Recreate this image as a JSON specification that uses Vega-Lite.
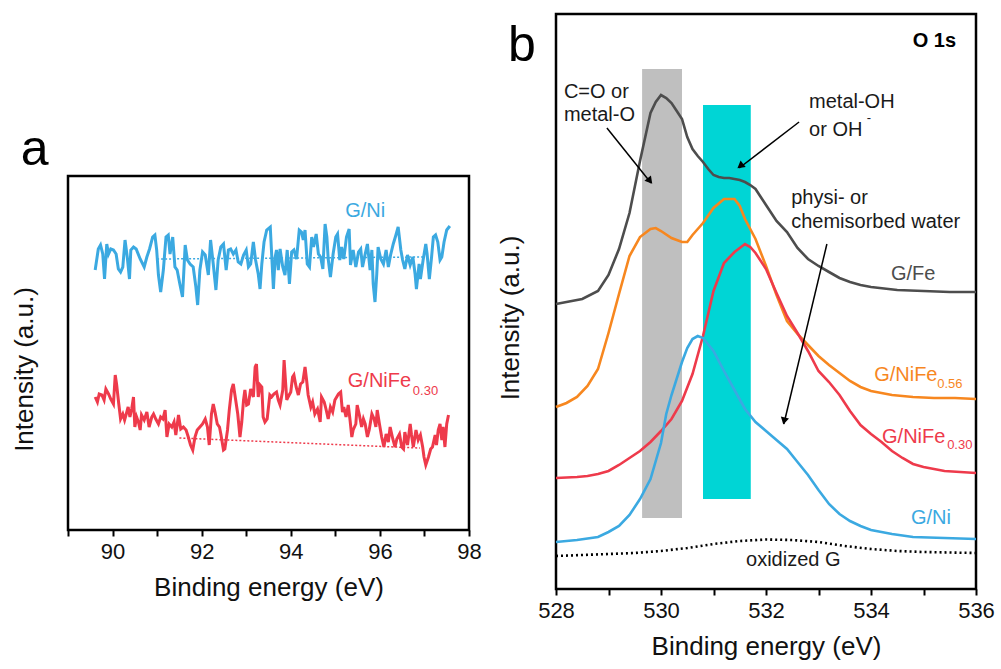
{
  "$schema": "https://vega.github.io/schema/vega-lite/v6.json",
  "padding": {"left": 9, "top": 12, "right": 0, "bottom": 0},
  "background": "white",
  "config": {
    "view": {"stroke": "black", "strokeWidth": 2.5},
    "font": "Liberation Sans",
    "axis": {"grid": false, "labelFont": "Liberation Sans", "titleFont": "Liberation Sans", "labelColor": "#111111", "titleColor": "#111111", "titleFontWeight": "normal", "labelFontSize": 22, "titleFontSize": 26}
  },
  "datasets": {
    "a_lines": [
      {"energy":89.61,"intensity":260,"series":"G/Ni"},{"energy":89.68,"intensity":281,"series":"G/Ni"},{"energy":89.73,"intensity":285,"series":"G/Ni"},{"energy":89.78,"intensity":276,"series":"G/Ni"},{"energy":89.82,"intensity":251,"series":"G/Ni"},{"energy":89.87,"intensity":286,"series":"G/Ni"},{"energy":89.91,"intensity":276,"series":"G/Ni"},{"energy":89.96,"intensity":281,"series":"G/Ni"},{"energy":90.02,"intensity":280,"series":"G/Ni"},{"energy":90.08,"intensity":276,"series":"G/Ni"},{"energy":90.13,"intensity":261,"series":"G/Ni"},{"energy":90.18,"intensity":258,"series":"G/Ni"},{"energy":90.23,"intensity":263,"series":"G/Ni"},{"energy":90.28,"intensity":290,"series":"G/Ni"},{"energy":90.33,"intensity":273,"series":"G/Ni"},{"energy":90.38,"intensity":251,"series":"G/Ni"},{"energy":90.41,"intensity":280,"series":"G/Ni"},{"energy":90.47,"intensity":283,"series":"G/Ni"},{"energy":90.53,"intensity":281,"series":"G/Ni"},{"energy":90.62,"intensity":271,"series":"G/Ni"},{"energy":90.71,"intensity":263,"series":"G/Ni"},{"energy":90.77,"intensity":273,"series":"G/Ni"},{"energy":90.83,"intensity":281,"series":"G/Ni"},{"energy":90.90,"intensity":293,"series":"G/Ni"},{"energy":90.95,"intensity":295,"series":"G/Ni"},{"energy":90.99,"intensity":280,"series":"G/Ni"},{"energy":91.03,"intensity":255,"series":"G/Ni"},{"energy":91.08,"intensity":238,"series":"G/Ni"},{"energy":91.14,"intensity":260,"series":"G/Ni"},{"energy":91.20,"intensity":293,"series":"G/Ni"},{"energy":91.25,"intensity":295,"series":"G/Ni"},{"energy":91.29,"intensity":276,"series":"G/Ni"},{"energy":91.35,"intensity":293,"series":"G/Ni"},{"energy":91.40,"intensity":263,"series":"G/Ni"},{"energy":91.45,"intensity":260,"series":"G/Ni"},{"energy":91.51,"intensity":246,"series":"G/Ni"},{"energy":91.57,"intensity":233,"series":"G/Ni"},{"energy":91.63,"intensity":285,"series":"G/Ni"},{"energy":91.68,"intensity":270,"series":"G/Ni"},{"energy":91.74,"intensity":266,"series":"G/Ni"},{"energy":91.81,"intensity":263,"series":"G/Ni"},{"energy":91.87,"intensity":243,"series":"G/Ni"},{"energy":91.91,"intensity":225,"series":"G/Ni"},{"energy":91.96,"intensity":260,"series":"G/Ni"},{"energy":92.02,"intensity":278,"series":"G/Ni"},{"energy":92.08,"intensity":275,"series":"G/Ni"},{"energy":92.15,"intensity":255,"series":"G/Ni"},{"energy":92.20,"intensity":290,"series":"G/Ni"},{"energy":92.26,"intensity":266,"series":"G/Ni"},{"energy":92.32,"intensity":240,"series":"G/Ni"},{"energy":92.37,"intensity":270,"series":"G/Ni"},{"energy":92.43,"intensity":283,"series":"G/Ni"},{"energy":92.49,"intensity":286,"series":"G/Ni"},{"energy":92.55,"intensity":260,"series":"G/Ni"},{"energy":92.60,"intensity":280,"series":"G/Ni"},{"energy":92.65,"intensity":281,"series":"G/Ni"},{"energy":92.71,"intensity":276,"series":"G/Ni"},{"energy":92.77,"intensity":280,"series":"G/Ni"},{"energy":92.82,"intensity":268,"series":"G/Ni"},{"energy":92.88,"intensity":266,"series":"G/Ni"},{"energy":92.94,"intensity":275,"series":"G/Ni"},{"energy":93.00,"intensity":280,"series":"G/Ni"},{"energy":93.05,"intensity":263,"series":"G/Ni"},{"energy":93.10,"intensity":266,"series":"G/Ni"},{"energy":93.16,"intensity":288,"series":"G/Ni"},{"energy":93.21,"intensity":270,"series":"G/Ni"},{"energy":93.27,"intensity":256,"series":"G/Ni"},{"energy":93.31,"intensity":241,"series":"G/Ni"},{"energy":93.35,"intensity":266,"series":"G/Ni"},{"energy":93.40,"intensity":288,"series":"G/Ni"},{"energy":93.46,"intensity":300,"series":"G/Ni"},{"energy":93.54,"intensity":303,"series":"G/Ni"},{"energy":93.61,"intensity":241,"series":"G/Ni"},{"energy":93.65,"intensity":273,"series":"G/Ni"},{"energy":93.68,"intensity":280,"series":"G/Ni"},{"energy":93.72,"intensity":260,"series":"G/Ni"},{"energy":93.76,"intensity":281,"series":"G/Ni"},{"energy":93.82,"intensity":263,"series":"G/Ni"},{"energy":93.87,"intensity":255,"series":"G/Ni"},{"energy":93.92,"intensity":280,"series":"G/Ni"},{"energy":93.97,"intensity":246,"series":"G/Ni"},{"energy":94.02,"intensity":278,"series":"G/Ni"},{"energy":94.07,"intensity":280,"series":"G/Ni"},{"energy":94.13,"intensity":271,"series":"G/Ni"},{"energy":94.19,"intensity":300,"series":"G/Ni"},{"energy":94.24,"intensity":298,"series":"G/Ni"},{"energy":94.28,"intensity":290,"series":"G/Ni"},{"energy":94.32,"intensity":300,"series":"G/Ni"},{"energy":94.37,"intensity":266,"series":"G/Ni"},{"energy":94.42,"intensity":263,"series":"G/Ni"},{"energy":94.47,"intensity":293,"series":"G/Ni"},{"energy":94.51,"intensity":283,"series":"G/Ni"},{"energy":94.57,"intensity":296,"series":"G/Ni"},{"energy":94.62,"intensity":276,"series":"G/Ni"},{"energy":94.67,"intensity":273,"series":"G/Ni"},{"energy":94.72,"intensity":261,"series":"G/Ni"},{"energy":94.77,"intensity":306,"series":"G/Ni"},{"energy":94.81,"intensity":293,"series":"G/Ni"},{"energy":94.84,"intensity":271,"series":"G/Ni"},{"energy":94.89,"intensity":253,"series":"G/Ni"},{"energy":94.95,"intensity":276,"series":"G/Ni"},{"energy":95.01,"intensity":293,"series":"G/Ni"},{"energy":95.05,"intensity":296,"series":"G/Ni"},{"energy":95.10,"intensity":270,"series":"G/Ni"},{"energy":95.14,"intensity":283,"series":"G/Ni"},{"energy":95.19,"intensity":271,"series":"G/Ni"},{"energy":95.25,"intensity":293,"series":"G/Ni"},{"energy":95.31,"intensity":301,"series":"G/Ni"},{"energy":95.34,"intensity":265,"series":"G/Ni"},{"energy":95.40,"intensity":280,"series":"G/Ni"},{"energy":95.46,"intensity":263,"series":"G/Ni"},{"energy":95.52,"intensity":278,"series":"G/Ni"},{"energy":95.57,"intensity":281,"series":"G/Ni"},{"energy":95.61,"intensity":263,"series":"G/Ni"},{"energy":95.67,"intensity":276,"series":"G/Ni"},{"energy":95.72,"intensity":286,"series":"G/Ni"},{"energy":95.78,"intensity":260,"series":"G/Ni"},{"energy":95.82,"intensity":280,"series":"G/Ni"},{"energy":95.85,"intensity":246,"series":"G/Ni"},{"energy":95.89,"intensity":228,"series":"G/Ni"},{"energy":95.93,"intensity":256,"series":"G/Ni"},{"energy":95.96,"intensity":283,"series":"G/Ni"},{"energy":96.02,"intensity":271,"series":"G/Ni"},{"energy":96.08,"intensity":266,"series":"G/Ni"},{"energy":96.14,"intensity":280,"series":"G/Ni"},{"energy":96.19,"intensity":263,"series":"G/Ni"},{"energy":96.24,"intensity":275,"series":"G/Ni"},{"energy":96.30,"intensity":286,"series":"G/Ni"},{"energy":96.36,"intensity":295,"series":"G/Ni"},{"energy":96.41,"intensity":303,"series":"G/Ni"},{"energy":96.47,"intensity":280,"series":"G/Ni"},{"energy":96.51,"intensity":270,"series":"G/Ni"},{"energy":96.56,"intensity":261,"series":"G/Ni"},{"energy":96.62,"intensity":275,"series":"G/Ni"},{"energy":96.68,"intensity":265,"series":"G/Ni"},{"energy":96.74,"intensity":273,"series":"G/Ni"},{"energy":96.79,"intensity":256,"series":"G/Ni"},{"energy":96.82,"intensity":241,"series":"G/Ni"},{"energy":96.88,"intensity":266,"series":"G/Ni"},{"energy":96.91,"intensity":251,"series":"G/Ni"},{"energy":96.97,"intensity":270,"series":"G/Ni"},{"energy":97.03,"intensity":286,"series":"G/Ni"},{"energy":97.06,"intensity":276,"series":"G/Ni"},{"energy":97.11,"intensity":251,"series":"G/Ni"},{"energy":97.16,"intensity":273,"series":"G/Ni"},{"energy":97.20,"intensity":293,"series":"G/Ni"},{"energy":97.25,"intensity":295,"series":"G/Ni"},{"energy":97.30,"intensity":288,"series":"G/Ni"},{"energy":97.35,"intensity":270,"series":"G/Ni"},{"energy":97.39,"intensity":273,"series":"G/Ni"},{"energy":97.44,"intensity":288,"series":"G/Ni"},{"energy":97.50,"intensity":300,"series":"G/Ni"},{"energy":97.57,"intensity":304,"series":"G/Ni"},
      {"energy":89.61,"intensity":133,"series":"G/NiFe0.30"},{"energy":89.66,"intensity":128,"series":"G/NiFe0.30"},{"energy":89.70,"intensity":136,"series":"G/NiFe0.30"},{"energy":89.76,"intensity":135,"series":"G/NiFe0.30"},{"energy":89.81,"intensity":130,"series":"G/NiFe0.30"},{"energy":89.85,"intensity":141,"series":"G/NiFe0.30"},{"energy":89.91,"intensity":136,"series":"G/NiFe0.30"},{"energy":89.96,"intensity":131,"series":"G/NiFe0.30"},{"energy":90.02,"intensity":126,"series":"G/NiFe0.30"},{"energy":90.06,"intensity":155,"series":"G/NiFe0.30"},{"energy":90.09,"intensity":146,"series":"G/NiFe0.30"},{"energy":90.14,"intensity":126,"series":"G/NiFe0.30"},{"energy":90.18,"intensity":111,"series":"G/NiFe0.30"},{"energy":90.23,"intensity":116,"series":"G/NiFe0.30"},{"energy":90.27,"intensity":110,"series":"G/NiFe0.30"},{"energy":90.32,"intensity":118,"series":"G/NiFe0.30"},{"energy":90.35,"intensity":123,"series":"G/NiFe0.30"},{"energy":90.39,"intensity":113,"series":"G/NiFe0.30"},{"energy":90.43,"intensity":121,"series":"G/NiFe0.30"},{"energy":90.47,"intensity":133,"series":"G/NiFe0.30"},{"energy":90.50,"intensity":103,"series":"G/NiFe0.30"},{"energy":90.54,"intensity":113,"series":"G/NiFe0.30"},{"energy":90.58,"intensity":108,"series":"G/NiFe0.30"},{"energy":90.62,"intensity":100,"series":"G/NiFe0.30"},{"energy":90.65,"intensity":115,"series":"G/NiFe0.30"},{"energy":90.71,"intensity":110,"series":"G/NiFe0.30"},{"energy":90.77,"intensity":118,"series":"G/NiFe0.30"},{"energy":90.82,"intensity":103,"series":"G/NiFe0.30"},{"energy":90.88,"intensity":113,"series":"G/NiFe0.30"},{"energy":90.92,"intensity":116,"series":"G/NiFe0.30"},{"energy":90.97,"intensity":111,"series":"G/NiFe0.30"},{"energy":91.03,"intensity":106,"series":"G/NiFe0.30"},{"energy":91.08,"intensity":113,"series":"G/NiFe0.30"},{"energy":91.13,"intensity":111,"series":"G/NiFe0.30"},{"energy":91.18,"intensity":120,"series":"G/NiFe0.30"},{"energy":91.22,"intensity":93,"series":"G/NiFe0.30"},{"energy":91.27,"intensity":106,"series":"G/NiFe0.30"},{"energy":91.33,"intensity":103,"series":"G/NiFe0.30"},{"energy":91.38,"intensity":108,"series":"G/NiFe0.30"},{"energy":91.42,"intensity":95,"series":"G/NiFe0.30"},{"energy":91.48,"intensity":115,"series":"G/NiFe0.30"},{"energy":91.53,"intensity":101,"series":"G/NiFe0.30"},{"energy":91.59,"intensity":103,"series":"G/NiFe0.30"},{"energy":91.65,"intensity":100,"series":"G/NiFe0.30"},{"energy":91.70,"intensity":93,"series":"G/NiFe0.30"},{"energy":91.75,"intensity":85,"series":"G/NiFe0.30"},{"energy":91.80,"intensity":80,"series":"G/NiFe0.30"},{"energy":91.85,"intensity":93,"series":"G/NiFe0.30"},{"energy":91.90,"intensity":100,"series":"G/NiFe0.30"},{"energy":91.96,"intensity":103,"series":"G/NiFe0.30"},{"energy":92.02,"intensity":106,"series":"G/NiFe0.30"},{"energy":92.08,"intensity":111,"series":"G/NiFe0.30"},{"energy":92.13,"intensity":103,"series":"G/NiFe0.30"},{"energy":92.17,"intensity":85,"series":"G/NiFe0.30"},{"energy":92.22,"intensity":116,"series":"G/NiFe0.30"},{"energy":92.26,"intensity":126,"series":"G/NiFe0.30"},{"energy":92.30,"intensity":118,"series":"G/NiFe0.30"},{"energy":92.35,"intensity":106,"series":"G/NiFe0.30"},{"energy":92.40,"intensity":103,"series":"G/NiFe0.30"},{"energy":92.43,"intensity":96,"series":"G/NiFe0.30"},{"energy":92.49,"intensity":80,"series":"G/NiFe0.30"},{"energy":92.52,"intensity":81,"series":"G/NiFe0.30"},{"energy":92.58,"intensity":100,"series":"G/NiFe0.30"},{"energy":92.62,"intensity":120,"series":"G/NiFe0.30"},{"energy":92.67,"intensity":140,"series":"G/NiFe0.30"},{"energy":92.71,"intensity":146,"series":"G/NiFe0.30"},{"energy":92.76,"intensity":131,"series":"G/NiFe0.30"},{"energy":92.81,"intensity":116,"series":"G/NiFe0.30"},{"energy":92.86,"intensity":93,"series":"G/NiFe0.30"},{"energy":92.90,"intensity":108,"series":"G/NiFe0.30"},{"energy":92.94,"intensity":130,"series":"G/NiFe0.30"},{"energy":92.97,"intensity":140,"series":"G/NiFe0.30"},{"energy":93.01,"intensity":125,"series":"G/NiFe0.30"},{"energy":93.05,"intensity":126,"series":"G/NiFe0.30"},{"energy":93.10,"intensity":141,"series":"G/NiFe0.30"},{"energy":93.16,"intensity":133,"series":"G/NiFe0.30"},{"energy":93.20,"intensity":163,"series":"G/NiFe0.30"},{"energy":93.23,"intensity":166,"series":"G/NiFe0.30"},{"energy":93.27,"intensity":133,"series":"G/NiFe0.30"},{"energy":93.31,"intensity":145,"series":"G/NiFe0.30"},{"energy":93.35,"intensity":143,"series":"G/NiFe0.30"},{"energy":93.38,"intensity":113,"series":"G/NiFe0.30"},{"energy":93.42,"intensity":108,"series":"G/NiFe0.30"},{"energy":93.47,"intensity":111,"series":"G/NiFe0.30"},{"energy":93.53,"intensity":135,"series":"G/NiFe0.30"},{"energy":93.57,"intensity":133,"series":"G/NiFe0.30"},{"energy":93.62,"intensity":136,"series":"G/NiFe0.30"},{"energy":93.68,"intensity":138,"series":"G/NiFe0.30"},{"energy":93.72,"intensity":130,"series":"G/NiFe0.30"},{"energy":93.76,"intensity":125,"series":"G/NiFe0.30"},{"energy":93.82,"intensity":140,"series":"G/NiFe0.30"},{"energy":93.85,"intensity":170,"series":"G/NiFe0.30"},{"energy":93.88,"intensity":150,"series":"G/NiFe0.30"},{"energy":93.91,"intensity":130,"series":"G/NiFe0.30"},{"energy":93.94,"intensity":133,"series":"G/NiFe0.30"},{"energy":94.00,"intensity":138,"series":"G/NiFe0.30"},{"energy":94.04,"intensity":153,"series":"G/NiFe0.30"},{"energy":94.07,"intensity":155,"series":"G/NiFe0.30"},{"energy":94.12,"intensity":143,"series":"G/NiFe0.30"},{"energy":94.17,"intensity":135,"series":"G/NiFe0.30"},{"energy":94.22,"intensity":146,"series":"G/NiFe0.30"},{"energy":94.27,"intensity":148,"series":"G/NiFe0.30"},{"energy":94.32,"intensity":163,"series":"G/NiFe0.30"},{"energy":94.36,"intensity":148,"series":"G/NiFe0.30"},{"energy":94.39,"intensity":135,"series":"G/NiFe0.30"},{"energy":94.45,"intensity":123,"series":"G/NiFe0.30"},{"energy":94.49,"intensity":128,"series":"G/NiFe0.30"},{"energy":94.54,"intensity":116,"series":"G/NiFe0.30"},{"energy":94.60,"intensity":121,"series":"G/NiFe0.30"},{"energy":94.66,"intensity":108,"series":"G/NiFe0.30"},{"energy":94.69,"intensity":133,"series":"G/NiFe0.30"},{"energy":94.75,"intensity":128,"series":"G/NiFe0.30"},{"energy":94.79,"intensity":121,"series":"G/NiFe0.30"},{"energy":94.84,"intensity":111,"series":"G/NiFe0.30"},{"energy":94.89,"intensity":123,"series":"G/NiFe0.30"},{"energy":94.94,"intensity":118,"series":"G/NiFe0.30"},{"energy":94.99,"intensity":130,"series":"G/NiFe0.30"},{"energy":95.03,"intensity":133,"series":"G/NiFe0.30"},{"energy":95.07,"intensity":136,"series":"G/NiFe0.30"},{"energy":95.12,"intensity":138,"series":"G/NiFe0.30"},{"energy":95.16,"intensity":118,"series":"G/NiFe0.30"},{"energy":95.19,"intensity":123,"series":"G/NiFe0.30"},{"energy":95.24,"intensity":113,"series":"G/NiFe0.30"},{"energy":95.29,"intensity":125,"series":"G/NiFe0.30"},{"energy":95.33,"intensity":110,"series":"G/NiFe0.30"},{"energy":95.37,"intensity":93,"series":"G/NiFe0.30"},{"energy":95.40,"intensity":100,"series":"G/NiFe0.30"},{"energy":95.46,"intensity":106,"series":"G/NiFe0.30"},{"energy":95.49,"intensity":125,"series":"G/NiFe0.30"},{"energy":95.54,"intensity":115,"series":"G/NiFe0.30"},{"energy":95.59,"intensity":103,"series":"G/NiFe0.30"},{"energy":95.63,"intensity":111,"series":"G/NiFe0.30"},{"energy":95.67,"intensity":106,"series":"G/NiFe0.30"},{"energy":95.72,"intensity":93,"series":"G/NiFe0.30"},{"energy":95.76,"intensity":100,"series":"G/NiFe0.30"},{"energy":95.82,"intensity":116,"series":"G/NiFe0.30"},{"energy":95.87,"intensity":111,"series":"G/NiFe0.30"},{"energy":95.91,"intensity":103,"series":"G/NiFe0.30"},{"energy":95.94,"intensity":120,"series":"G/NiFe0.30"},{"energy":95.99,"intensity":106,"series":"G/NiFe0.30"},{"energy":96.04,"intensity":93,"series":"G/NiFe0.30"},{"energy":96.09,"intensity":83,"series":"G/NiFe0.30"},{"energy":96.14,"intensity":96,"series":"G/NiFe0.30"},{"energy":96.19,"intensity":88,"series":"G/NiFe0.30"},{"energy":96.23,"intensity":103,"series":"G/NiFe0.30"},{"energy":96.29,"intensity":91,"series":"G/NiFe0.30"},{"energy":96.34,"intensity":83,"series":"G/NiFe0.30"},{"energy":96.38,"intensity":91,"series":"G/NiFe0.30"},{"energy":96.44,"intensity":96,"series":"G/NiFe0.30"},{"energy":96.49,"intensity":83,"series":"G/NiFe0.30"},{"energy":96.53,"intensity":81,"series":"G/NiFe0.30"},{"energy":96.56,"intensity":98,"series":"G/NiFe0.30"},{"energy":96.62,"intensity":85,"series":"G/NiFe0.30"},{"energy":96.68,"intensity":106,"series":"G/NiFe0.30"},{"energy":96.71,"intensity":95,"series":"G/NiFe0.30"},{"energy":96.75,"intensity":83,"series":"G/NiFe0.30"},{"energy":96.81,"intensity":100,"series":"G/NiFe0.30"},{"energy":96.86,"intensity":90,"series":"G/NiFe0.30"},{"energy":96.91,"intensity":95,"series":"G/NiFe0.30"},{"energy":96.96,"intensity":83,"series":"G/NiFe0.30"},{"energy":96.99,"intensity":73,"series":"G/NiFe0.30"},{"energy":97.03,"intensity":65,"series":"G/NiFe0.30"},{"energy":97.09,"intensity":73,"series":"G/NiFe0.30"},{"energy":97.14,"intensity":81,"series":"G/NiFe0.30"},{"energy":97.18,"intensity":83,"series":"G/NiFe0.30"},{"energy":97.24,"intensity":95,"series":"G/NiFe0.30"},{"energy":97.27,"intensity":85,"series":"G/NiFe0.30"},{"energy":97.31,"intensity":100,"series":"G/NiFe0.30"},{"energy":97.35,"intensity":106,"series":"G/NiFe0.30"},{"energy":97.39,"intensity":90,"series":"G/NiFe0.30"},{"energy":97.42,"intensity":103,"series":"G/NiFe0.30"},{"energy":97.46,"intensity":83,"series":"G/NiFe0.30"},{"energy":97.50,"intensity":106,"series":"G/NiFe0.30"},{"energy":97.54,"intensity":115,"series":"G/NiFe0.30"}
    ],
    "a_base": [
      {"energy":91.0,"intensity":271,"series":"G/Ni"},{"energy":97.0,"intensity":273,"series":"G/Ni"},
      {"energy":91.5,"intensity":92,"series":"G/NiFe0.30"},{"energy":96.9,"intensity":82,"series":"G/NiFe0.30"}
    ],
    "a_notes": [
      {"label":"G/Ni","energy":95.22,"intensity":313,"series":"G/Ni"},
      {"label":"G/NiFe","energy":95.28,"intensity":143,"series":"G/NiFe0.30"}
    ],
    "a_subs": [
      {"label":"0.30","energy":96.74,"intensity":135,"series":"G/NiFe0.30"}
    ],
    "a_letter": [{"label":"a","energy":88.25,"intensity":365}],
    "b_bands": [
      {"energy":529.64,"energy2":530.40,"intensity":71,"intensity2":520,"series":"gray band"},
      {"energy":530.80,"energy2":531.71,"intensity":90,"intensity2":484,"series":"cyan band"}
    ],
    "b_lines": [
      {"energy":528.0,"intensity":285,"series":"G/Fe"},{"energy":528.2,"intensity":287,"series":"G/Fe"},{"energy":528.5,"intensity":290,"series":"G/Fe"},{"energy":528.8,"intensity":298,"series":"G/Fe"},{"energy":529.0,"intensity":314,"series":"G/Fe"},{"energy":529.2,"intensity":340,"series":"G/Fe"},{"energy":529.4,"intensity":376,"series":"G/Fe"},{"energy":529.6,"intensity":428,"series":"G/Fe"},{"energy":529.7,"intensity":452,"series":"G/Fe"},{"energy":529.8,"intensity":476,"series":"G/Fe"},{"energy":529.9,"intensity":487,"series":"G/Fe"},{"energy":530.0,"intensity":494,"series":"G/Fe"},{"energy":530.1,"intensity":491,"series":"G/Fe"},{"energy":530.2,"intensity":486,"series":"G/Fe"},{"energy":530.3,"intensity":478,"series":"G/Fe"},{"energy":530.4,"intensity":470,"series":"G/Fe"},{"energy":530.5,"intensity":452,"series":"G/Fe"},{"energy":530.6,"intensity":440,"series":"G/Fe"},{"energy":530.7,"intensity":433,"series":"G/Fe"},{"energy":530.8,"intensity":427,"series":"G/Fe"},{"energy":530.9,"intensity":420,"series":"G/Fe"},{"energy":531.0,"intensity":414,"series":"G/Fe"},{"energy":531.1,"intensity":412,"series":"G/Fe"},{"energy":531.2,"intensity":411,"series":"G/Fe"},{"energy":531.3,"intensity":411,"series":"G/Fe"},{"energy":531.4,"intensity":410,"series":"G/Fe"},{"energy":531.5,"intensity":409,"series":"G/Fe"},{"energy":531.6,"intensity":407,"series":"G/Fe"},{"energy":531.7,"intensity":404,"series":"G/Fe"},{"energy":531.8,"intensity":400,"series":"G/Fe"},{"energy":531.9,"intensity":392,"series":"G/Fe"},{"energy":532.0,"intensity":384,"series":"G/Fe"},{"energy":532.2,"intensity":368,"series":"G/Fe"},{"energy":532.4,"intensity":357,"series":"G/Fe"},{"energy":532.6,"intensity":341,"series":"G/Fe"},{"energy":532.8,"intensity":330,"series":"G/Fe"},{"energy":533.0,"intensity":323,"series":"G/Fe"},{"energy":533.2,"intensity":317,"series":"G/Fe"},{"energy":533.4,"intensity":311,"series":"G/Fe"},{"energy":533.6,"intensity":307,"series":"G/Fe"},{"energy":533.8,"intensity":304,"series":"G/Fe"},{"energy":534.0,"intensity":302,"series":"G/Fe"},{"energy":534.5,"intensity":299,"series":"G/Fe"},{"energy":535.0,"intensity":298,"series":"G/Fe"},{"energy":535.5,"intensity":297,"series":"G/Fe"},{"energy":536.0,"intensity":297,"series":"G/Fe"},
      {"energy":528.0,"intensity":182,"series":"G/NiFe0.56"},{"energy":528.2,"intensity":186,"series":"G/NiFe0.56"},{"energy":528.4,"intensity":192,"series":"G/NiFe0.56"},{"energy":528.6,"intensity":203,"series":"G/NiFe0.56"},{"energy":528.8,"intensity":220,"series":"G/NiFe0.56"},{"energy":529.0,"intensity":256,"series":"G/NiFe0.56"},{"energy":529.2,"intensity":295,"series":"G/NiFe0.56"},{"energy":529.4,"intensity":333,"series":"G/NiFe0.56"},{"energy":529.6,"intensity":352,"series":"G/NiFe0.56"},{"energy":529.8,"intensity":360,"series":"G/NiFe0.56"},{"energy":529.9,"intensity":361,"series":"G/NiFe0.56"},{"energy":530.0,"intensity":358,"series":"G/NiFe0.56"},{"energy":530.2,"intensity":351,"series":"G/NiFe0.56"},{"energy":530.4,"intensity":347,"series":"G/NiFe0.56"},{"energy":530.5,"intensity":347,"series":"G/NiFe0.56"},{"energy":530.6,"intensity":354,"series":"G/NiFe0.56"},{"energy":530.8,"intensity":366,"series":"G/NiFe0.56"},{"energy":531.0,"intensity":381,"series":"G/NiFe0.56"},{"energy":531.2,"intensity":390,"series":"G/NiFe0.56"},{"energy":531.4,"intensity":390,"series":"G/NiFe0.56"},{"energy":531.5,"intensity":383,"series":"G/NiFe0.56"},{"energy":531.6,"intensity":370,"series":"G/NiFe0.56"},{"energy":531.8,"intensity":350,"series":"G/NiFe0.56"},{"energy":532.0,"intensity":323,"series":"G/NiFe0.56"},{"energy":532.2,"intensity":294,"series":"G/NiFe0.56"},{"energy":532.4,"intensity":268,"series":"G/NiFe0.56"},{"energy":532.6,"intensity":255,"series":"G/NiFe0.56"},{"energy":532.8,"intensity":244,"series":"G/NiFe0.56"},{"energy":533.0,"intensity":233,"series":"G/NiFe0.56"},{"energy":533.2,"intensity":224,"series":"G/NiFe0.56"},{"energy":533.4,"intensity":216,"series":"G/NiFe0.56"},{"energy":533.6,"intensity":208,"series":"G/NiFe0.56"},{"energy":533.8,"intensity":202,"series":"G/NiFe0.56"},{"energy":534.0,"intensity":198,"series":"G/NiFe0.56"},{"energy":534.4,"intensity":194,"series":"G/NiFe0.56"},{"energy":534.8,"intensity":192,"series":"G/NiFe0.56"},{"energy":535.2,"intensity":191,"series":"G/NiFe0.56"},{"energy":535.6,"intensity":191,"series":"G/NiFe0.56"},{"energy":536.0,"intensity":190,"series":"G/NiFe0.56"},
      {"energy":528.0,"intensity":111,"series":"G/NiFe0.30"},{"energy":528.4,"intensity":112,"series":"G/NiFe0.30"},{"energy":528.6,"intensity":113,"series":"G/NiFe0.30"},{"energy":528.8,"intensity":115,"series":"G/NiFe0.30"},{"energy":529.0,"intensity":118,"series":"G/NiFe0.30"},{"energy":529.2,"intensity":124,"series":"G/NiFe0.30"},{"energy":529.4,"intensity":131,"series":"G/NiFe0.30"},{"energy":529.6,"intensity":138,"series":"G/NiFe0.30"},{"energy":529.8,"intensity":147,"series":"G/NiFe0.30"},{"energy":530.0,"intensity":158,"series":"G/NiFe0.30"},{"energy":530.2,"intensity":170,"series":"G/NiFe0.30"},{"energy":530.4,"intensity":188,"series":"G/NiFe0.30"},{"energy":530.6,"intensity":215,"series":"G/NiFe0.30"},{"energy":530.8,"intensity":253,"series":"G/NiFe0.30"},{"energy":531.0,"intensity":298,"series":"G/NiFe0.30"},{"energy":531.2,"intensity":326,"series":"G/NiFe0.30"},{"energy":531.4,"intensity":337,"series":"G/NiFe0.30"},{"energy":531.6,"intensity":345,"series":"G/NiFe0.30"},{"energy":531.7,"intensity":342,"series":"G/NiFe0.30"},{"energy":531.8,"intensity":336,"series":"G/NiFe0.30"},{"energy":532.0,"intensity":320,"series":"G/NiFe0.30"},{"energy":532.2,"intensity":296,"series":"G/NiFe0.30"},{"energy":532.4,"intensity":273,"series":"G/NiFe0.30"},{"energy":532.6,"intensity":256,"series":"G/NiFe0.30"},{"energy":532.8,"intensity":238,"series":"G/NiFe0.30"},{"energy":533.0,"intensity":218,"series":"G/NiFe0.30"},{"energy":533.2,"intensity":207,"series":"G/NiFe0.30"},{"energy":533.4,"intensity":194,"series":"G/NiFe0.30"},{"energy":533.6,"intensity":178,"series":"G/NiFe0.30"},{"energy":533.8,"intensity":164,"series":"G/NiFe0.30"},{"energy":534.0,"intensity":155,"series":"G/NiFe0.30"},{"energy":534.2,"intensity":147,"series":"G/NiFe0.30"},{"energy":534.4,"intensity":138,"series":"G/NiFe0.30"},{"energy":534.6,"intensity":131,"series":"G/NiFe0.30"},{"energy":534.8,"intensity":125,"series":"G/NiFe0.30"},{"energy":535.0,"intensity":122,"series":"G/NiFe0.30"},{"energy":535.4,"intensity":118,"series":"G/NiFe0.30"},{"energy":536.0,"intensity":116,"series":"G/NiFe0.30"},
      {"energy":528.0,"intensity":47,"series":"G/Ni"},{"energy":528.4,"intensity":49,"series":"G/Ni"},{"energy":528.8,"intensity":52,"series":"G/Ni"},{"energy":529.0,"intensity":57,"series":"G/Ni"},{"energy":529.2,"intensity":63,"series":"G/Ni"},{"energy":529.4,"intensity":74,"series":"G/Ni"},{"energy":529.6,"intensity":90,"series":"G/Ni"},{"energy":529.8,"intensity":110,"series":"G/Ni"},{"energy":530.0,"intensity":146,"series":"G/Ni"},{"energy":530.1,"intensity":175,"series":"G/Ni"},{"energy":530.2,"intensity":194,"series":"G/Ni"},{"energy":530.4,"intensity":227,"series":"G/Ni"},{"energy":530.5,"intensity":241,"series":"G/Ni"},{"energy":530.6,"intensity":250,"series":"G/Ni"},{"energy":530.7,"intensity":253,"series":"G/Ni"},{"energy":530.8,"intensity":251,"series":"G/Ni"},{"energy":531.0,"intensity":238,"series":"G/Ni"},{"energy":531.2,"intensity":218,"series":"G/Ni"},{"energy":531.4,"intensity":199,"series":"G/Ni"},{"energy":531.6,"intensity":180,"series":"G/Ni"},{"energy":531.8,"intensity":167,"series":"G/Ni"},{"energy":532.0,"intensity":158,"series":"G/Ni"},{"energy":532.2,"intensity":149,"series":"G/Ni"},{"energy":532.4,"intensity":140,"series":"G/Ni"},{"energy":532.6,"intensity":127,"series":"G/Ni"},{"energy":532.8,"intensity":114,"series":"G/Ni"},{"energy":533.0,"intensity":99,"series":"G/Ni"},{"energy":533.2,"intensity":85,"series":"G/Ni"},{"energy":533.4,"intensity":75,"series":"G/Ni"},{"energy":533.6,"intensity":68,"series":"G/Ni"},{"energy":533.8,"intensity":63,"series":"G/Ni"},{"energy":534.0,"intensity":59,"series":"G/Ni"},{"energy":534.4,"intensity":55,"series":"G/Ni"},{"energy":534.8,"intensity":52,"series":"G/Ni"},{"energy":535.4,"intensity":51,"series":"G/Ni"},{"energy":536.0,"intensity":50,"series":"G/Ni"}
    ],
    "b_oxidized": [
      {"energy":528.0,"intensity":33,"series":"oxidized G"},{"energy":528.5,"intensity":34,"series":"oxidized G"},{"energy":529.0,"intensity":35,"series":"oxidized G"},{"energy":529.5,"intensity":36,"series":"oxidized G"},{"energy":530.0,"intensity":38,"series":"oxidized G"},{"energy":530.5,"intensity":41,"series":"oxidized G"},{"energy":531.0,"intensity":45,"series":"oxidized G"},{"energy":531.5,"intensity":48,"series":"oxidized G"},{"energy":532.0,"intensity":49.5,"series":"oxidized G"},{"energy":532.5,"intensity":49,"series":"oxidized G"},{"energy":533.0,"intensity":47,"series":"oxidized G"},{"energy":533.5,"intensity":43,"series":"oxidized G"},{"energy":534.0,"intensity":40,"series":"oxidized G"},{"energy":534.5,"intensity":38,"series":"oxidized G"},{"energy":535.0,"intensity":37,"series":"oxidized G"},{"energy":536.0,"intensity":36,"series":"oxidized G"}
    ],
    "b_arrows": [
      {"id":"a1","energy":528.97,"intensity":461,"energy2":529.81,"intensity2":406},
      {"id":"a2","energy":532.63,"intensity":467,"energy2":531.49,"intensity2":421},
      {"id":"a3","energy":533.16,"intensity":345,"energy2":532.34,"intensity2":165}
    ],
    "b_heads": [
      {"id":"a1","energy":529.79,"intensity":408},
      {"id":"a2","energy":531.51,"intensity":423},
      {"id":"a3","energy":532.345,"intensity":168}
    ],
    "b_notes": [
      {"label":"C=O or","energy":528.15,"intensity":491,"series":"note"},
      {"label":"metal-O","energy":528.15,"intensity":468,"series":"note"},
      {"label":"metal-OH","energy":532.82,"intensity":481,"series":"note"},
      {"label":"or OH","energy":532.82,"intensity":453,"series":"note"},
      {"label":"physi- or","energy":532.48,"intensity":385,"series":"note"},
      {"label":"chemisorbed water","energy":532.48,"intensity":361,"series":"note"},
      {"label":"G/Fe","energy":534.38,"intensity":309,"series":"G/Fe"},
      {"label":"G/NiFe","energy":534.06,"intensity":208,"series":"G/NiFe0.56"},
      {"label":"G/NiFe","energy":534.21,"intensity":146,"series":"G/NiFe0.30"},
      {"label":"G/Ni","energy":534.76,"intensity":65,"series":"G/Ni"},
      {"label":"oxidized G","energy":531.62,"intensity":23,"series":"note"}
    ],
    "b_subs": [
      {"label":"0.56","energy":535.26,"intensity":201,"series":"G/NiFe0.56"},
      {"label":"0.30","energy":535.45,"intensity":140,"series":"G/NiFe0.30"},
      {"label":"-","energy":533.92,"intensity":467,"series":"note"}
    ],
    "b_title": [{"label":"O 1s","energy":535.62,"intensity":542}],
    "b_letter": [{"label":"b","energy":527.35,"intensity":528}]
  },
  "spacing": 12,
  "hconcat": [
    {
      "spacing": 0,
      "vconcat": [
        {"width": 401, "height": 109, "data": {"values": []}, "mark": "point", "view": {"stroke": null}},
        {
          "width": 401,
          "height": 354,
          "encoding": {
            "x": {"field": "energy", "type": "quantitative", "title": "Binding energy (eV)",
              "scale": {"domain": [89, 98], "nice": false, "zero": false},
              "axis": {"title": "Binding energy (eV)", "values": [89,90,91,92,93,94,95,96,97,98], "labelExpr": "datum.value % 2 == 0 ? datum.label : ''", "tickSize": 6, "tickWidth": 2, "tickColor": "black", "domain": false, "labelPadding": 5, "titlePadding": 12, "labelFlush": false, "labelOverlap": false}},
            "y": {"field": "intensity", "type": "quantitative", "title": "Intensity (a.u.)",
              "scale": {"domain": [0, 354], "nice": false, "zero": false},
              "axis": {"title": "Intensity (a.u.)", "labels": false, "ticks": false, "domain": false, "titlePadding": 31, "titleY": 193}}
          },
          "layer": [
            {"data": {"name": "a_base"}, "mark": {"type": "line", "strokeWidth": 1.5, "strokeDash": [2, 2]},
              "encoding": {"detail": {"field": "series"}, "color": {"field": "series", "type": "nominal", "legend": null,
                "scale": {"domain": ["G/Fe","G/NiFe0.56","G/NiFe0.30","G/Ni","oxidized G","gray band","cyan band","note"], "range": ["#4D4D4D","#F7871F","#EE3A4B","#3BA9E1","#000000","#BFBFBF","#00D5D5","#1A1A1A"]}}}},
            {"data": {"name": "a_lines"}, "mark": {"type": "line", "strokeWidth": 3},
              "encoding": {"color": {"field": "series", "type": "nominal", "legend": null,
                "scale": {"domain": ["G/Fe","G/NiFe0.56","G/NiFe0.30","G/Ni","oxidized G","gray band","cyan band","note"], "range": ["#4D4D4D","#F7871F","#EE3A4B","#3BA9E1","#000000","#BFBFBF","#00D5D5","#1A1A1A"]}}}},
            {"data": {"name": "a_notes"}, "mark": {"type": "text", "fontSize": 20, "align": "left", "baseline": "alphabetic"},
              "encoding": {"text": {"field": "label"}, "color": {"field": "series", "type": "nominal", "legend": null,
                "scale": {"domain": ["G/Fe","G/NiFe0.56","G/NiFe0.30","G/Ni","oxidized G","gray band","cyan band","note"], "range": ["#4D4D4D","#F7871F","#EE3A4B","#3BA9E1","#000000","#BFBFBF","#00D5D5","#1A1A1A"]}}}},
            {"data": {"name": "a_subs"}, "mark": {"type": "text", "fontSize": 13, "align": "left", "baseline": "alphabetic"},
              "encoding": {"text": {"field": "label"}, "color": {"field": "series", "type": "nominal", "legend": null,
                "scale": {"domain": ["G/Fe","G/NiFe0.56","G/NiFe0.30","G/Ni","oxidized G","gray band","cyan band","note"], "range": ["#4D4D4D","#F7871F","#EE3A4B","#3BA9E1","#000000","#BFBFBF","#00D5D5","#1A1A1A"]}}}},
            {"data": {"name": "a_letter"}, "mark": {"type": "text", "fontSize": 50, "align": "center", "baseline": "alphabetic", "color": "black"},
              "encoding": {"text": {"field": "label"}}}
          ]
        }
      ]
    },
    {
      "width": 420,
      "height": 575,
      "encoding": {
        "x": {"field": "energy", "type": "quantitative", "title": "Binding energy (eV)",
          "scale": {"domain": [528, 536], "nice": false, "zero": false},
          "axis": {"title": "Binding energy (eV)", "values": [528,529,530,531,532,533,534,535,536], "labelExpr": "datum.value % 2 == 0 ? datum.label : ''", "tickSize": 6, "tickWidth": 2, "tickColor": "black", "domain": false, "labelPadding": 5, "titlePadding": 12, "labelFlush": false, "labelOverlap": false}},
        "y": {"field": "intensity", "type": "quantitative", "title": "Intensity (a.u.)",
          "scale": {"domain": [0, 575], "nice": false, "zero": false},
          "axis": {"title": "Intensity (a.u.)", "labels": false, "ticks": false, "domain": false, "titlePadding": 33, "titleY": 303.5}}
      },
      "layer": [
        {"data": {"name": "b_bands"}, "mark": {"type": "rect"},
          "encoding": {"x2": {"field": "energy2"}, "y2": {"field": "intensity2"}, "color": {"field": "series", "type": "nominal", "legend": null,
            "scale": {"domain": ["G/Fe","G/NiFe0.56","G/NiFe0.30","G/Ni","oxidized G","gray band","cyan band","note"], "range": ["#4D4D4D","#F7871F","#EE3A4B","#3BA9E1","#000000","#BFBFBF","#00D5D5","#1A1A1A"]}}}},
        {"data": {"name": "b_lines"}, "mark": {"type": "line", "strokeWidth": 2.6},
          "encoding": {"color": {"field": "series", "type": "nominal", "legend": null,
            "scale": {"domain": ["G/Fe","G/NiFe0.56","G/NiFe0.30","G/Ni","oxidized G","gray band","cyan band","note"], "range": ["#4D4D4D","#F7871F","#EE3A4B","#3BA9E1","#000000","#BFBFBF","#00D5D5","#1A1A1A"]}}}},
        {"data": {"name": "b_oxidized"}, "mark": {"type": "line", "strokeWidth": 2.6, "strokeDash": [2, 3], "color": "black"},
          "encoding": {}},
        {"data": {"name": "b_arrows"}, "mark": {"type": "rule", "strokeWidth": 1.5, "color": "black"},
          "encoding": {"x2": {"field": "energy2"}, "y2": {"field": "intensity2"}}},
        {"data": {"name": "b_heads"}, "transform": [{"filter": "datum.id == 'a1'"}], "mark": {"type": "point", "shape": "triangle-up", "filled": true, "size": 70, "angle": 141, "fill": "black", "stroke": "black", "strokeWidth": 0, "opacity": 1},
          "encoding": {}},
        {"data": {"name": "b_heads"}, "transform": [{"filter": "datum.id == 'a2'"}], "mark": {"type": "point", "shape": "triangle-up", "filled": true, "size": 70, "angle": 232, "fill": "black", "stroke": "black", "strokeWidth": 0, "opacity": 1},
          "encoding": {}},
        {"data": {"name": "b_heads"}, "transform": [{"filter": "datum.id == 'a3'"}], "mark": {"type": "point", "shape": "triangle-up", "filled": true, "size": 70, "angle": 193, "fill": "black", "stroke": "black", "strokeWidth": 0, "opacity": 1},
          "encoding": {}},
        {"data": {"name": "b_notes"}, "mark": {"type": "text", "fontSize": 20, "align": "left", "baseline": "alphabetic"},
          "encoding": {"text": {"field": "label"}, "color": {"field": "series", "type": "nominal", "legend": null,
            "scale": {"domain": ["G/Fe","G/NiFe0.56","G/NiFe0.30","G/Ni","oxidized G","gray band","cyan band","note"], "range": ["#4D4D4D","#F7871F","#EE3A4B","#3BA9E1","#000000","#BFBFBF","#00D5D5","#1A1A1A"]}}}},
        {"data": {"name": "b_subs"}, "mark": {"type": "text", "fontSize": 13, "align": "left", "baseline": "alphabetic"},
          "encoding": {"text": {"field": "label"}, "color": {"field": "series", "type": "nominal", "legend": null,
            "scale": {"domain": ["G/Fe","G/NiFe0.56","G/NiFe0.30","G/Ni","oxidized G","gray band","cyan band","note"], "range": ["#4D4D4D","#F7871F","#EE3A4B","#3BA9E1","#000000","#BFBFBF","#00D5D5","#1A1A1A"]}}}},
        {"data": {"name": "b_title"}, "mark": {"type": "text", "fontSize": 20, "fontWeight": "bold", "align": "right", "baseline": "alphabetic", "color": "black"},
          "encoding": {"text": {"field": "label"}}},
        {"data": {"name": "b_letter"}, "mark": {"type": "text", "fontSize": 50, "align": "center", "baseline": "alphabetic", "color": "black"},
          "encoding": {"text": {"field": "label"}}}
      ]
    }
  ]
}
